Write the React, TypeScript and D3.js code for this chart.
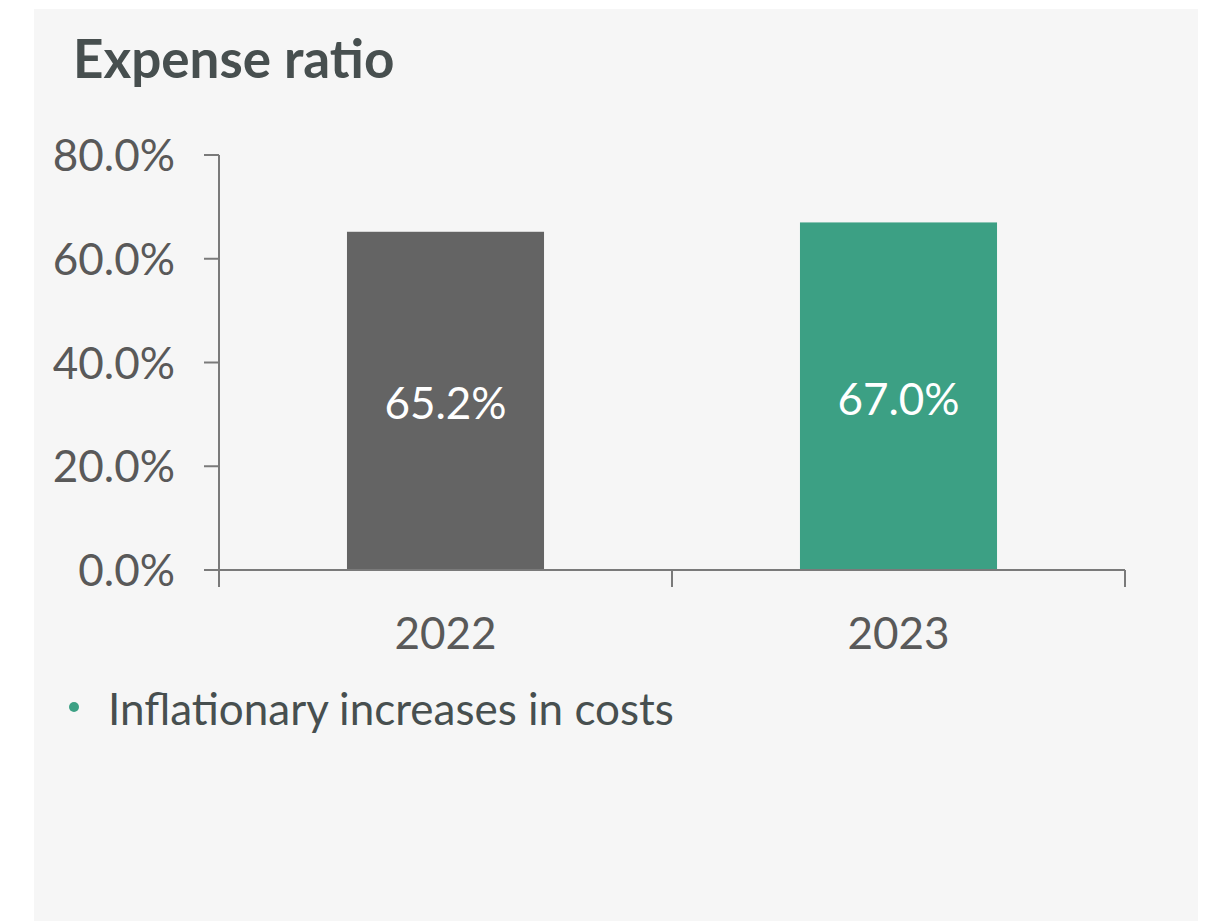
import React from "react";
import * as d3 from "d3";

const title = "Expense ratio";
const categories = ["2022", "2023"];
const values = [65.2, 67.0];
const barColors = ["#646464", "#3ca084"];
const yTicks = [0, 20, 40, 60, 80];
const bulletText = "Inflationary increases in costs";

const W = 1208;
const H = 921;
const FONT = "Lato, 'Open Sans', sans-serif";

export default function App() {
  const x0 = 219, x1 = 1125, yTop = 155, yBot = 570;
  const x = d3.scaleBand<string>().domain(categories).range([x0, x1]).paddingInner(0.565).paddingOuter(0.2825);
  const xTick = d3.scaleBand<string>().domain(categories).range([x0, x1]).padding(0);
  const y = d3.scaleLinear().domain([0, 80]).range([yBot, yTop]);
  const fmt = (v: number) => v.toFixed(1) + "%";
  const axisColor = "#7a7a7a";
  const textColor = "#595959";

  return (
    <svg width={W} height={H} style={{ position: "absolute", left: 0, top: 0 }} xmlns="http://www.w3.org/2000/svg">
      <rect x={0} y={0} width={W} height={H} fill="#ffffff" />
      <rect x={34} y={9} width={1164} height={H - 9} fill="#f6f6f6" />
      <text x={73} y={78} fontFamily={FONT} fontWeight={700} fontSize={53} fill="#474f4f">{title}</text>

      {/* bars */}
      {categories.map((c, i) => (
        <rect key={c} x={x(c)} y={y(values[i])} width={x.bandwidth()} height={yBot - y(values[i])} fill={barColors[i]} />
      ))}
      {categories.map((c, i) => (
        <text key={c + "l"} x={(x(c) as number) + x.bandwidth() / 2} y={(y(values[i]) + yBot) / 2 + 18.5}
          textAnchor="middle" fontFamily={FONT} fontSize={44} fill="#ffffff">{fmt(values[i])}</text>
      ))}

      {/* y axis */}
      <line x1={x0} x2={x0} y1={yTop} y2={yBot + 16} stroke={axisColor} strokeWidth={2} />
      {yTicks.map((t) => (
        <g key={t}>
          <line x1={x0 - 15} x2={x0} y1={y(t)} y2={y(t)} stroke={axisColor} strokeWidth={2} />
          <text x={175} y={y(t) + 16} textAnchor="end" fontFamily={FONT} fontSize={44} fill={textColor}>{fmt(t)}</text>
        </g>
      ))}

      {/* x axis */}
      <line x1={x0} x2={x1} y1={yBot} y2={yBot} stroke={axisColor} strokeWidth={2} />
      {[...categories.map((c) => xTick(c) as number), x1].map((px, i) => (
        <line key={"t" + i} x1={px} x2={px} y1={yBot} y2={yBot + 17} stroke={axisColor} strokeWidth={2} />
      ))}
      {categories.map((c) => (
        <text key={c + "x"} x={(xTick(c) as number) + xTick.bandwidth() / 2} y={649} textAnchor="middle"
          fontFamily={FONT} fontSize={44} fill={textColor}>{c}</text>
      ))}

      {/* bullet */}
      <circle cx={74} cy={707} r={5} fill="#3ca084" />
      <text x={108} y={725} fontFamily={FONT} fontSize={44} fill="#474f4f">{bulletText}</text>
    </svg>
  );
}
